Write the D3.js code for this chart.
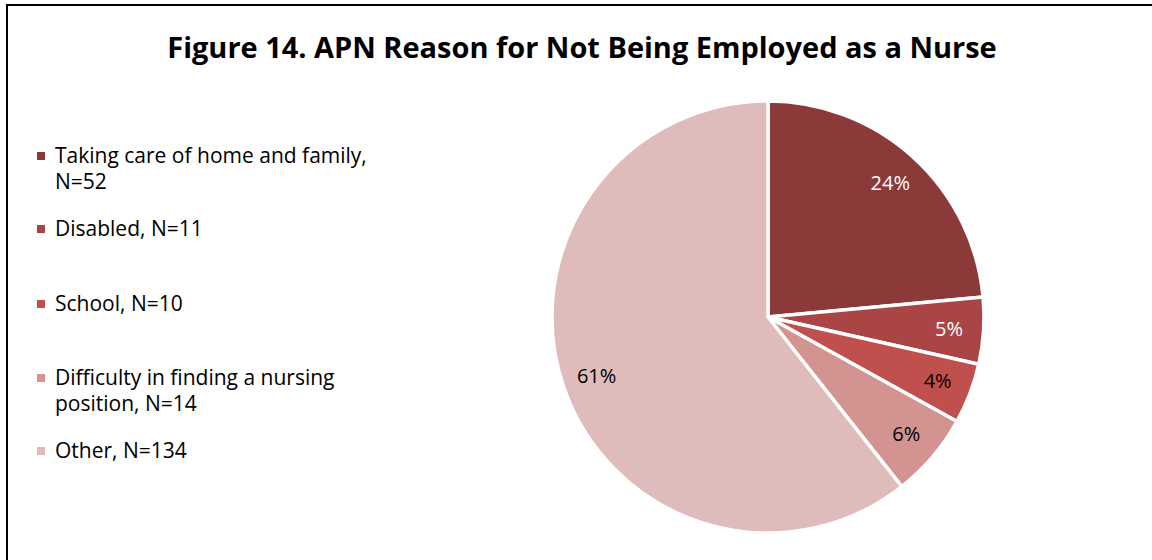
<!DOCTYPE html>
<html lang="en">
<head>
<meta charset="UTF-8">
<title>APN Reason for Not Being Employed as a Nurse</title>
<script src="https://d3js.org/d3.v7.min.js"></script>
<style>
  body { margin: 0; background: #fff; }
  svg { display: block; font-family: "Open Sans", "Lato", sans-serif; }
</style>
</head>
<body>
<div id="chart"></div>
<script>
const categories = ["Taking care of home and family", "Disabled", "School", "Difficulty in finding a nursing position", "Other"];
const counts = [52, 11, 10, 14, 134];
const pctLabels = ["24%", "5%", "4%", "6%", "61%"];
const legendLines = [
  ["Taking care of home and family,", "N=52"],
  ["Disabled, N=11"],
  ["School, N=10"],
  ["Difficulty in finding a nursing", "position, N=14"],
  ["Other, N=134"]
];
const colors = ["#8b3a39", "#a94645", "#c0504d", "#d39391", "#dfbbbb"];
const labelColors = ["#fff", "#fff", "#000", "#000", "#000"];

const width = 1152, height = 560;
const svg = d3.select("#chart").append("svg")
    .attr("width", width)
    .attr("height", height);

// frame
svg.append("rect")
    .attr("x", 7).attr("y", 5)
    .attr("width", width + 10).attr("height", height + 10)
    .attr("fill", "none").attr("stroke", "#000").attr("stroke-width", 2);

// title, sized to span the same width as the original
const title = svg.append("text")
    .attr("x", 582).attr("y", 58)
    .attr("text-anchor", "middle")
    .attr("font-weight", "bold")
    .attr("font-size", 28)
    .text("Figure 14. APN Reason for Not Being Employed as a Nurse");
const tw = title.node().getComputedTextLength();
title.attr("font-size", 28 * 830 / tw);

// pie
const cx = 768, cy = 317, r = 216;
const pie = d3.pie().sort(null).value(d => d)(counts);
const arc = d3.arc().innerRadius(0).outerRadius(r);
const g = svg.append("g").attr("transform", `translate(${cx},${cy})`);

g.selectAll("path")
    .data(pie)
    .enter().append("path")
    .attr("d", arc)
    .attr("fill", (d, i) => colors[i])
    .attr("stroke", "#fff")
    .attr("stroke-width", 3.5)
    .attr("stroke-linejoin", "round");

const labelArc = d3.arc().innerRadius(r * 0.84).outerRadius(r * 0.84);
g.selectAll("text.pct")
    .data(pie)
    .enter().append("text")
    .attr("class", "pct")
    .attr("transform", d => {
        const c = labelArc.centroid(d);
        return `translate(${c[0]},${c[1]})`;
    })
    .attr("text-anchor", "middle")
    .attr("dy", "0.35em")
    .attr("font-size", 20)
    .attr("fill", (d, i) => labelColors[i])
    .text((d, i) => pctLabels[i]);

// legend
const legendY = [156, 229, 304, 378, 451];
const legend = svg.append("g");
legendLines.forEach((lines, i) => {
    legend.append("rect")
        .attr("x", 37).attr("y", legendY[i] - 4)
        .attr("width", 8).attr("height", 8)
        .attr("fill", colors[i]);
    lines.forEach((t, j) => {
        legend.append("text")
            .attr("x", 55).attr("y", legendY[i] + j * 26)
            .attr("dy", "0.35em")
            .attr("font-size", 21)
            .text(t);
    });
});
</script>
</body>
</html>
